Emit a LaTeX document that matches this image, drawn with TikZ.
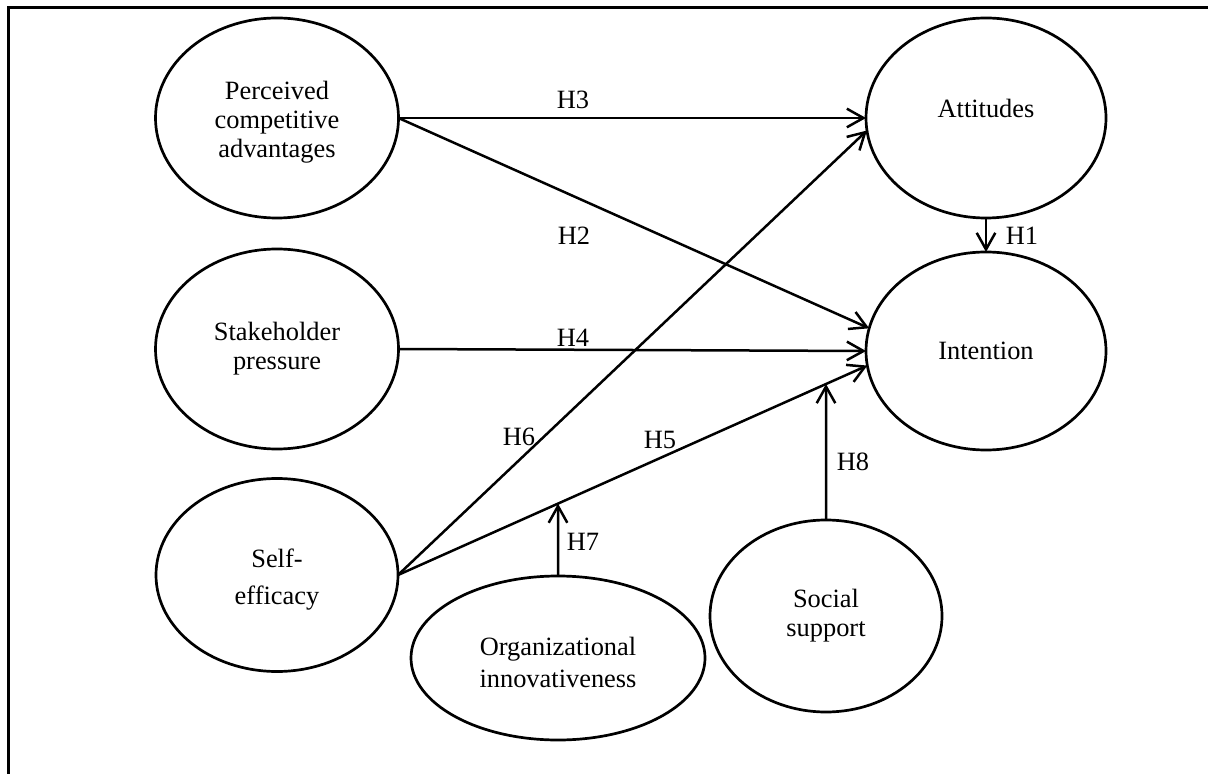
\documentclass[tikz,border=0pt]{standalone}
\usepackage{fontspec}
\setmainfont{Liberation Serif}
\usetikzlibrary{shapes.geometric,arrows.meta,intersections}
\begin{document}
\begin{tikzpicture}[x=0.5pt,y=-0.5pt,
  every node/.style={font=\fontsize{13.2}{14.5}\selectfont},
  construct/.style={ellipse,draw,line width=1.35pt,inner sep=0pt,outer sep=0pt},
  txt/.style={align=center,inner sep=0pt},
  hyp/.style={line width=1.25pt,-{Straight Barb[length=8.3pt,width=9.3pt,line width=1.25pt]}},
  hlabel/.style={inner sep=0pt}]
\useasboundingbox (0,0) rectangle (1208,774);
\draw[line width=1.5pt] (8,774) -- (8,8) -- (1208,8);

\node[construct,minimum width=121.5pt,minimum height=100pt,
  label={[txt,yshift=-2pt]center:Perceived\\competitive\\advantages}] (pca) at (277,118) {};
\node[construct,minimum width=121.5pt,minimum height=100pt,
  label={[txt]center:Stakeholder\\pressure}] (stake) at (277,349) {};
\node[construct,minimum width=121pt,minimum height=96.5pt,
  label={[txt,yshift=-2.5pt]center:Self-\\[4pt]efficacy}] (se) at (277,575) {};
\node[construct,minimum width=120pt,minimum height=100pt,
  label={[txt,yshift=5pt]center:Attitudes}] (att) at (986,118) {};
\node[construct,minimum width=120pt,minimum height=99pt,
  label={[txt]center:Intention}] (int) at (986,351) {};
\node[construct,minimum width=147pt,minimum height=82pt,
  label={[txt,yshift=-2pt]center:Organizational\\[1.5pt]innovativeness}] (org) at (558,658) {};
\node[construct,minimum width=116pt,minimum height=96pt,
  label={[txt]center:Social\\support}] (soc) at (826,616) {};

\draw[hyp] (pca.east) -- (att.west);
\draw[hyp] (pca.east) -- (int.169);
\draw[hyp] (stake.east) -- (int.west);
\draw[hyp] (se.east) -- (att.186);
\draw[hyp,name path=h5] (se.east) -- (int.187);
\draw[hyp] (att.south) -- (int.north);

\path[name path=v7] (org.north) -- ++(0,-200);
\path[name path=v8] (soc.north) -- ++(0,-250);
\path[name intersections={of=h5 and v7,by=t7}];
\path[name intersections={of=h5 and v8,by=t8}];
\coordinate (h7tip) at (t7);
\coordinate (h8tip) at (t8);
\draw[hyp] (org.north) -- (h7tip);
\draw[hyp] (soc.north) -- (h8tip);

\node[hlabel] (l3) at (573,100) {H3};
\node[hlabel] (l2) at (574,236) {H2};
\node[hlabel] (l4) at (573,338) {H4};
\node[hlabel] (l6) at (519,437) {H6};
\node[hlabel] (l5) at (660,440) {H5};
\node[hlabel] (l7) at (583,542) {H7};
\node[hlabel] (l8) at (853,462) {H8};
\node[hlabel] (l1) at (1022,236) {H1};
\end{tikzpicture}
\end{document}
